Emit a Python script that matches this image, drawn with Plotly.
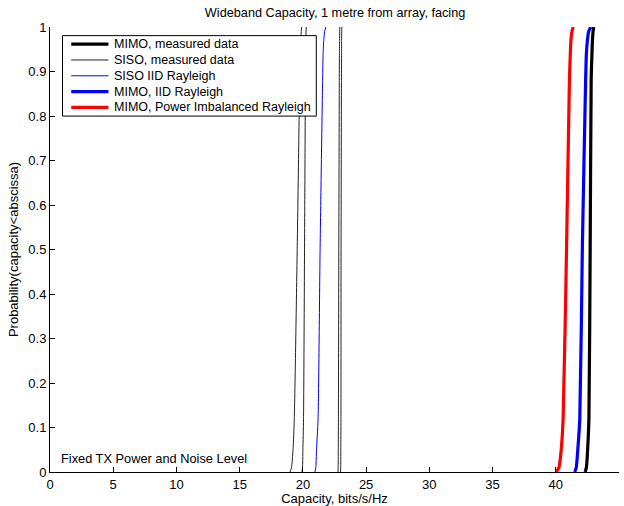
import plotly.graph_objects as go

# probability levels (CDF ordinate)
prob = [0, 0.01, 0.05, 0.12, 0.5, 0.88, 0.94, 0.97, 0.99, 1.0]

mimo_measured = [42.32, 42.42, 42.52, 42.62, 42.72, 42.80, 42.86, 42.90, 42.95, 43.00]
siso_measured_1 = [18.98, 19.10, 19.22, 19.32, 19.55, 19.75, 19.80, 19.84, 19.87, 19.90]
siso_measured_2 = [19.93, 19.97, 20.00, 20.05, 20.13, 20.20, 20.22, 20.23, 20.25, 20.27]
siso_measured_3 = [22.78, 22.79, 22.80, 22.81, 22.84, 22.88, 22.89, 22.90, 22.91, 22.92]
siso_measured_4 = [22.98, 22.99, 23.00, 23.01, 23.02, 23.05, 23.06, 23.06, 23.07, 23.08]
siso_iid = [20.95, 21.02, 21.08, 21.20, 21.36, 21.56, 21.60, 21.65, 21.72, 21.82]
mimo_iid = [41.50, 41.62, 41.74, 41.90, 42.10, 42.36, 42.42, 42.50, 42.60, 42.78]
mimo_imbalanced = [40.05, 40.25, 40.43, 40.58, 40.85, 41.08, 41.15, 41.20, 41.28, 41.38]

x_ticks = [0, 5, 10, 15, 20, 25, 30, 35, 40, 45]
y_ticks = [0, 0.1, 0.2, 0.3, 0.4, 0.5, 0.6, 0.7, 0.8, 0.9, 1]

legend_names = ["MIMO, measured data", "SISO, measured data", "SISO IID Rayleigh",
                "MIMO, IID Rayleigh", "MIMO, Power Imbalanced Rayleigh"]
legend_colors = ["black", "#222222", "blue", "blue", "red"]
legend_widths = [3.2, 1, 1, 3.2, 3.2]

fig = go.Figure()

def add(xs, name, color, width):
    fig.add_trace(go.Scatter(x=xs, y=prob, mode="lines", name=name,
                             line=dict(color=color, width=width, shape="spline", smoothing=0.6),
                             showlegend=False))

add(mimo_measured, legend_names[0], "black", 3.2)
add(siso_measured_1, legend_names[1], "#222222", 1)
add(siso_measured_2, legend_names[1], "#222222", 1)
add(siso_measured_3, legend_names[1], "#222222", 1)
add(siso_measured_4, legend_names[1], "#222222", 1)
add(siso_iid, legend_names[2], "blue", 1)
add(mimo_iid, legend_names[3], "blue", 3.2)
add(mimo_imbalanced, legend_names[4], "red", 3.2)

font = "Liberation Sans, Arial, sans-serif"

# hand-built legend box (MATLAB-style compact legend)
shapes = [dict(type="rect", xref="paper", yref="paper", x0=0.022, x1=0.468,
               y0=0.7998, y1=0.9806, line=dict(color="black", width=1),
               fillcolor="white", layer="above")]
annotations = []
row_y = 0.9614
row_step = 0.0355
for i, (nm, col, wd) in enumerate(zip(legend_names, legend_colors, legend_widths)):
    yy = row_y - i * row_step
    shapes.append(dict(type="line", xref="paper", yref="paper", x0=0.0373, x1=0.1027,
                       y0=yy, y1=yy, line=dict(color=col, width=wd), layer="above"))
    annotations.append(dict(text=nm, xref="paper", yref="paper", x=0.109, y=yy,
                            xanchor="left", yanchor="middle", showarrow=False,
                            font=dict(size=12.5)))

annotations.append(dict(text="Fixed TX Power and Noise Level", xref="paper", yref="paper",
                        x=0.016, y=0.03, xanchor="left", yanchor="middle",
                        showarrow=False, font=dict(size=12.8)))

fig.update_layout(
    width=624, height=506,
    margin=dict(l=49.5, r=5, t=27, b=28),
    paper_bgcolor="white", plot_bgcolor="white",
    font=dict(family=font, size=13, color="black"),
    title=dict(text="Wideband Capacity, 1 metre from array, facing",
               x=0.537, xanchor="center", y=0.976, yanchor="middle",
               font=dict(size=12.7)),
    xaxis=dict(range=[0, 45], tickvals=x_ticks, ticks="inside", ticklen=5,
               tickcolor="black", showline=True, linecolor="black", linewidth=1,
               showgrid=False, zeroline=False, tickfont=dict(size=13),
               title=dict(text="Capacity, bits/s/Hz", font=dict(size=13), standoff=0)),
    yaxis=dict(range=[0, 1], tickvals=y_ticks, ticktext=[f"{v:g}" for v in y_ticks],
               ticks="inside", ticklen=5, tickfont=dict(size=13),
               tickcolor="black", showline=True, linecolor="black", linewidth=1,
               showgrid=False, zeroline=False,
               title=dict(text="Probability(capacity<abscissa)", font=dict(size=13), standoff=6)),
    shapes=shapes,
    annotations=annotations,
)

fig.write_html("out.html")
